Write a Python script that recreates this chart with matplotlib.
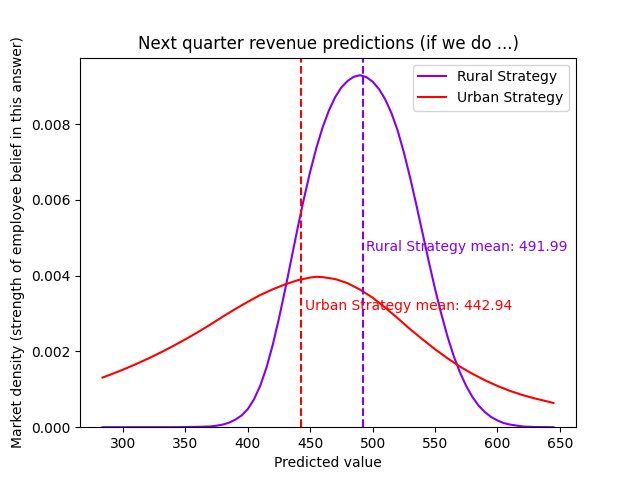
import numpy as np
import matplotlib
matplotlib.use("Agg")
import matplotlib.pyplot as plt

# Density curves
rural_x = [283.5, 300, 320, 340, 350, 360, 370, 375, 380, 385, 390, 395, 400,
           405, 410, 415, 420, 425, 430, 435, 440, 445, 450, 455, 460, 465,
           470, 475, 480, 485, 490, 495, 500, 505, 510, 515, 520, 525, 530,
           535, 540, 545, 550, 555, 560, 565, 570, 575, 580, 585, 590, 595,
           600, 605, 610, 620, 630, 645]
rural_y = [0.0, 0.0, 0.0, 0.0, 0.000005, 0.00001, 0.00002, 0.00004, 0.00007,
           0.00012, 0.0002, 0.00031, 0.00048, 0.00074, 0.0011, 0.00158,
           0.00218, 0.00288, 0.00365, 0.00446, 0.00527, 0.00604, 0.00675,
           0.00738, 0.00792, 0.00836, 0.00871, 0.00897, 0.00914, 0.00925,
           0.00929, 0.00924, 0.00912, 0.00893, 0.00866, 0.0083, 0.00784,
           0.00726, 0.0066, 0.00588, 0.00513, 0.00438, 0.00366, 0.003, 0.0024,
           0.00188, 0.00145, 0.00109, 0.0008, 0.00057, 0.0004, 0.00027,
           0.00018, 0.00011, 0.00007, 0.00002, 0.000005, 0.0]

urban_x = [283.5, 290, 300, 310, 320, 330, 340, 350, 360, 370, 380, 390, 400,
           410, 420, 430, 440, 450, 455, 460, 470, 480, 490, 500, 510, 520,
           530, 540, 550, 560, 570, 580, 590, 600, 610, 620, 630, 645]
urban_y = [0.00131, 0.00139, 0.00152, 0.00166, 0.00181, 0.00197, 0.00214,
           0.00232, 0.00251, 0.00271, 0.00292, 0.00312, 0.00331, 0.00349,
           0.00364, 0.00377, 0.00388, 0.00395, 0.00397, 0.00396, 0.00391,
           0.0038, 0.00363, 0.00342, 0.00316, 0.00288, 0.00259, 0.00232,
           0.00206, 0.00182, 0.0016, 0.00141, 0.00124, 0.00109, 0.00096,
           0.00085, 0.00076, 0.00064]

rural_mean = 491.99
urban_mean = 442.94

rural_color = "#8000ff"
urban_color = "red"

fig = plt.figure(figsize=(6.4, 4.8), dpi=100)
plt.plot(rural_x, rural_y, color=rural_color, label="Rural Strategy")
plt.plot(urban_x, urban_y, color=urban_color, label="Urban Strategy")
plt.ylim(bottom=0)

plt.axvline(rural_mean, color=rural_color, linestyle="--")
plt.axvline(urban_mean, color=urban_color, linestyle="--")

peak = max(rural_y)
plt.text(rural_mean + 3, peak / 2, f"Rural Strategy mean: {rural_mean:.2f}",
         color=rural_color)
plt.text(urban_mean + 3, peak / 3, f"Urban Strategy mean: {urban_mean:.2f}",
         color=urban_color)

plt.title("Next quarter revenue predictions (if we do ...)")
plt.xlabel("Predicted value")
plt.ylabel("Market density (strength of employee belief in this answer)")
plt.legend(loc="upper right")

plt.savefig("out.png")
